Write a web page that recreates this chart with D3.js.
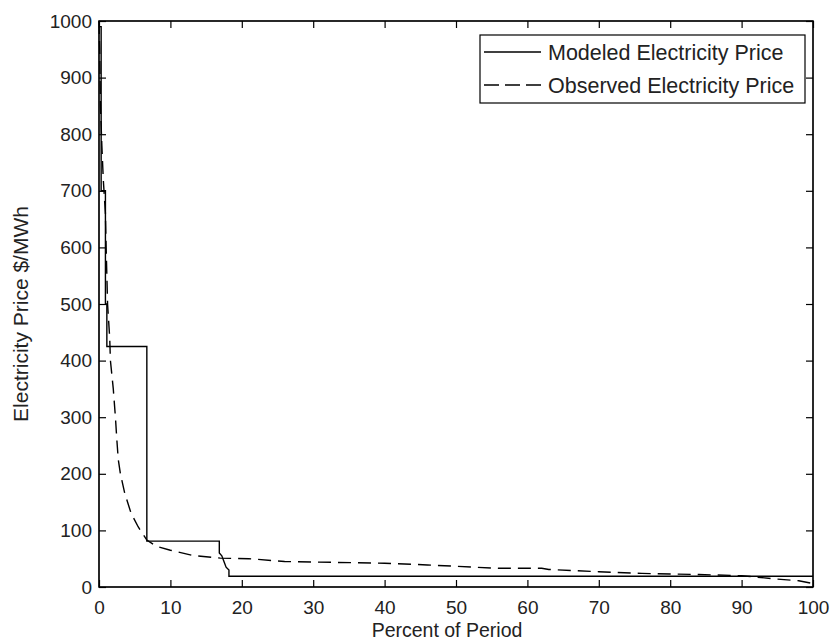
<!DOCTYPE html>
<html>
<head>
<meta charset="utf-8">
<script src="https://cdn.jsdelivr.net/npm/d3@7"></script>
<style>
  html, body { margin: 0; padding: 0; background: #fff; }
  svg { display: block; }
  text { font-family: "Liberation Sans", Arial, Helvetica, sans-serif; fill: #222; }
</style>
</head>
<body>
<svg id="chart" width="832" height="641"></svg>
<script>
// ---- data ----
const xTicks = [0, 10, 20, 30, 40, 50, 60, 70, 80, 90, 100];
const yTicks = [0, 100, 200, 300, 400, 500, 600, 700, 800, 900, 1000];

const modeledPct   = [0, 0.3, 0.3, 0.9, 0.9, 1.1, 1.1, 6.7, 6.7, 16.85, 16.85, 17.2, 17.5, 17.8, 18.2, 18.2, 100];
const modeledPrice = [990, 990, 700, 700, 500, 500, 425, 425, 81, 81, 60, 55, 45, 35, 30, 19, 19];

const observedPct   = [0, 0.1, 0.2, 0.4, 0.6, 0.9, 1.0, 1.2, 1.5, 1.6, 2.0, 2.3, 2.5, 2.7, 3.0, 3.6, 4.5, 5.5, 6.7, 8, 10, 13, 17, 21, 26, 40, 46, 56, 62, 63, 70, 76, 80, 84, 90, 95, 98, 100];
const observedPrice = [1000, 950, 850, 780, 720, 660, 600, 500, 440, 400, 350, 300, 260, 225, 200, 166, 130, 106, 83, 72, 65, 56, 51, 50, 45, 42, 39, 33, 33, 31, 27, 24, 23, 22, 20, 14, 11, 6];

const seriesNames = ["Modeled Electricity Price", "Observed Electricity Price"];

// ---- layout ----
const svg = d3.select("#chart");
const L = 99, R = 813, T = 21, B = 587;
const x = d3.scaleLinear().domain([0, 100]).range([L, R]);
const y = d3.scaleLinear().domain([0, 1000]).range([B, T]);
const tickLen = 7;
const fontSize = 19;

// box
svg.append("rect").attr("x", L).attr("y", T).attr("width", R - L).attr("height", B - T)
  .attr("fill", "#fff").attr("stroke", "#000").attr("stroke-width", 1.2);

// axes using d3 axis generators, ticks inward
const gB = svg.append("g").attr("transform", `translate(0,${B})`)
  .call(d3.axisBottom(x).tickValues(xTicks).tickSize(-tickLen).tickPadding(14).tickFormat(d3.format("d")));
const gT = svg.append("g").attr("transform", `translate(0,${T})`)
  .call(d3.axisTop(x).tickValues(xTicks).tickSize(-tickLen).tickFormat(""));
const gL = svg.append("g").attr("transform", `translate(${L},0)`)
  .call(d3.axisLeft(y).tickValues(yTicks).tickSize(-tickLen).tickPadding(7).tickFormat(d3.format("d")));
const gR = svg.append("g").attr("transform", `translate(${R},0)`)
  .call(d3.axisRight(y).tickValues(yTicks).tickSize(-tickLen).tickFormat(""));

[gB, gT, gL, gR].forEach(g => {
  g.select(".domain").remove();
  g.selectAll(".tick line").attr("stroke", "#000").attr("stroke-width", 1.2);
  g.selectAll(".tick text").attr("font-size", fontSize)
    .attr("font-family", "'Liberation Sans', Arial, sans-serif").attr("fill", "#222");
});

// lines
const line = d3.line().x(d => x(d[0])).y(d => y(d[1]));
const modeled = modeledPct.map((p, i) => [p, modeledPrice[i]]);
const observed = observedPct.map((p, i) => [p, observedPrice[i]]);

svg.append("path").datum(observed).attr("d", line)
  .attr("fill", "none").attr("stroke", "#000").attr("stroke-width", 1.4)
  .attr("stroke-dasharray", "13,7");
svg.append("path").datum(modeled).attr("d", line)
  .attr("fill", "none").attr("stroke", "#000").attr("stroke-width", 1.4);

// redraw box border on top
svg.append("rect").attr("x", L).attr("y", T).attr("width", R - L).attr("height", B - T)
  .attr("fill", "none").attr("stroke", "#000").attr("stroke-width", 1.2);

// legend
const lg = svg.append("g");
lg.append("rect").attr("x", 480).attr("y", 35).attr("width", 325).attr("height", 68)
  .attr("fill", "#fff").attr("stroke", "#000").attr("stroke-width", 1.2);
const rows = [52, 85];
seriesNames.forEach((name, i) => {
  lg.append("line").attr("x1", 484).attr("x2", 541).attr("y1", rows[i]).attr("y2", rows[i])
    .attr("stroke", "#000").attr("stroke-width", 1.4)
    .attr("stroke-dasharray", i === 1 ? "15,6" : null);
  lg.append("text").attr("x", 548).attr("y", rows[i]).attr("dy", "0.35em")
    .attr("font-size", 21.5).text(name);
});

// axis labels
svg.append("text").attr("x", 447).attr("y", 637).attr("text-anchor", "middle")
  .attr("font-size", fontSize + 0.5).text("Percent of Period");
svg.append("text").attr("transform", `translate(28,${(T + B) / 2 + 10}) rotate(-90)`)
  .attr("text-anchor", "middle").attr("font-size", 21).text("Electricity Price $/MWh");
</script>
</body>
</html>
